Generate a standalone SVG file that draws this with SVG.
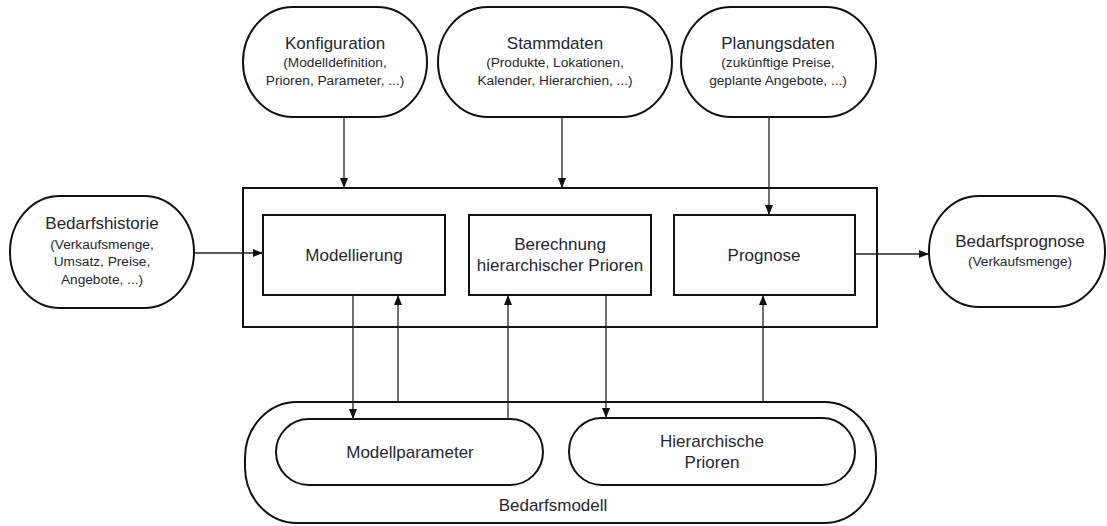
<svg xmlns="http://www.w3.org/2000/svg" width="1107" height="526" viewBox="0 0 1107 526">
<style>
.box{fill:#fff;stroke:#111;stroke-width:2}
.con{fill:none;stroke:#222;stroke-width:1.3}
text{font-family:"Liberation Sans",Arial,sans-serif;fill:#262630;text-anchor:middle}
.t{font-size:17px}
.s{font-size:13.7px}
</style>
<defs>
<marker id="ah" markerUnits="userSpaceOnUse" markerWidth="10" markerHeight="10" viewBox="0 0 10 10" refX="10" refY="5" orient="auto">
<path d="M0,1 L10,5 L0,9 Z" fill="#111"/>
</marker>
</defs>
<rect width="1107" height="526" fill="#fff"/>
<g id="hauptprozess"><rect class="box" x="243" y="188" width="634" height="139"/></g>
<g id="bedarfsmodell">
<rect class="box" x="245" y="402" width="631" height="121" rx="52" ry="56"/>
<text class="t" x="553" y="511">Bedarfsmodell</text>
</g>
<g id="konfiguration">
<rect class="box" x="243" y="7" width="184" height="110" rx="50" ry="55"/>
<text class="t" x="335" y="49">Konfiguration</text>
<text class="s" x="335" y="67">(Modelldefinition,</text>
<text class="s" x="335" y="85">Prioren, Parameter, ...)</text>
</g>
<g id="stammdaten">
<rect class="box" x="438" y="7" width="234" height="110" rx="50" ry="55"/>
<text class="t" x="555" y="49">Stammdaten</text>
<text class="s" x="555" y="67">(Produkte, Lokationen,</text>
<text class="s" x="555" y="85">Kalender, Hierarchien, ...)</text>
</g>
<g id="planungsdaten">
<rect class="box" x="681" y="7" width="195" height="110" rx="50" ry="55"/>
<text class="t" x="778" y="49">Planungsdaten</text>
<text class="s" x="778" y="67">(zukünftige Preise,</text>
<text class="s" x="778" y="85">geplante Angebote, ...)</text>
</g>
<g id="bedarfshistorie">
<rect class="box" x="10" y="196" width="184" height="112" rx="50" ry="56"/>
<text class="t" x="102" y="229">Bedarfshistorie</text>
<text class="s" x="102" y="249">(Verkaufsmenge,</text>
<text class="s" x="102" y="266">Umsatz, Preise,</text>
<text class="s" x="102" y="284">Angebote, ...)</text>
</g>
<g id="bedarfsprognose">
<rect class="box" x="929" y="196" width="176" height="111" rx="50" ry="55"/>
<text class="t" x="1020" y="247">Bedarfsprognose</text>
<text class="s" x="1020" y="266">(Verkaufsmenge)</text>
</g>
<g id="modellierung">
<rect class="box" x="263" y="215" width="182" height="80"/>
<text class="t" x="354" y="261">Modellierung</text>
</g>
<g id="berechnung">
<rect class="box" x="469" y="215" width="182" height="80"/>
<text class="t" x="560" y="250">Berechnung</text>
<text class="t" x="560" y="271">hierarchischer Prioren</text>
</g>
<g id="prognose">
<rect class="box" x="674" y="215" width="181" height="80"/>
<text class="t" x="764" y="261">Prognose</text>
</g>
<g id="modellparameter">
<rect class="box" x="276" y="419" width="267" height="66" rx="33"/>
<text class="t" x="410" y="458">Modellparameter</text>
</g>
<g id="hierarchische-prioren">
<rect class="box" x="569" y="418" width="286" height="67" rx="33"/>
<text class="t" x="712" y="447">Hierarchische</text>
<text class="t" x="712" y="468">Prioren</text>
</g>
<g id="connectors">
<line class="con" x1="344" y1="117" x2="344" y2="188" marker-end="url(#ah)"/>
<line class="con" x1="562" y1="117" x2="562" y2="188" marker-end="url(#ah)"/>
<line class="con" x1="769" y1="117" x2="769" y2="215" marker-end="url(#ah)"/>
<line class="con" x1="194" y1="253" x2="263" y2="253" marker-end="url(#ah)"/>
<line class="con" x1="855" y1="254" x2="929" y2="254" marker-end="url(#ah)"/>
<line class="con" x1="353" y1="295" x2="353" y2="419" marker-end="url(#ah)"/>
<line class="con" x1="398" y1="402" x2="398" y2="295" marker-end="url(#ah)"/>
<line class="con" x1="508" y1="419" x2="508" y2="295" marker-end="url(#ah)"/>
<line class="con" x1="606" y1="295" x2="606" y2="418" marker-end="url(#ah)"/>
<line class="con" x1="763" y1="402" x2="763" y2="295" marker-end="url(#ah)"/>
</g>
</svg>
